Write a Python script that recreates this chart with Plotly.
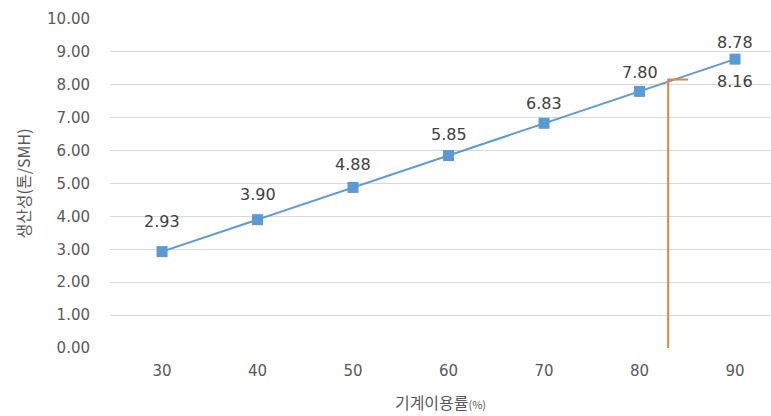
import plotly.graph_objects as go

# Machine utilisation (%) vs. productivity (tonnes per scheduled machine hour)
utilisation = [30, 40, 50, 60, 70, 80, 90]
productivity = [2.93, 3.90, 4.88, 5.85, 6.83, 7.80, 8.78]
value_labels = ["2.93", "3.90", "4.88", "5.85", "6.83", "7.80", "8.78"]
y_ticks = [0, 1, 2, 3, 4, 5, 6, 7, 8, 9, 10]
y_tick_labels = ["0.00", "1.00", "2.00", "3.00", "4.00", "5.00",
                 "6.00", "7.00", "8.00", "9.00", "10.00"]

# Marker line for the target operating point
target_x = 83.0
target_y = 8.16
target_label = "8.16"

label_offsets = [30, 25, 23, 21, 20, 19, 17]

BLUE = "#5B9BD5"
ORANGE = "#E6853A"
NUM_FONT = "DejaVu Sans, sans-serif"
KR_FONT = "Noto Sans CJK KR, Noto Sans, sans-serif"

fig = go.Figure()

fig.add_trace(go.Scatter(
    x=utilisation, y=productivity,
    mode="lines+markers",
    line=dict(color=BLUE, width=2),
    marker=dict(symbol="square", size=11, color=BLUE),
    hoverinfo="x+y",
    showlegend=False,
))

# Vertical drop line with a short horizontal cap at the top
fig.add_trace(go.Scatter(
    x=[target_x, target_x, target_x + 2.1],
    y=[0, target_y, target_y],
    mode="lines",
    line=dict(color=ORANGE, width=2),
    hoverinfo="skip",
    showlegend=False,
))

for xv, yv, txt, dy in zip(utilisation, productivity, value_labels, label_offsets):
    fig.add_annotation(x=xv, y=yv, text=txt, showarrow=False,
                       yshift=dy, font=dict(size=16, color="#404040", family=NUM_FONT))

fig.add_annotation(x=utilisation[-1], y=target_y, text=target_label, showarrow=False,
                   yshift=-2, font=dict(size=16, color="#404040", family=NUM_FONT))

fig.update_layout(
    width=771, height=416,
    margin=dict(l=110, r=0, t=19, b=68),
    paper_bgcolor="white", plot_bgcolor="white",
    font=dict(family=NUM_FONT, color="#595959"),
    xaxis=dict(
        range=[24.55, 93.77],
        tickvals=utilisation,
        ticktext=[str(v) for v in utilisation],
        showgrid=False, zeroline=False,
        showline=False,
        ticks="outside", ticklen=9, tickcolor="rgba(0,0,0,0)",
        tickfont=dict(size=15, color="#595959", family=NUM_FONT),
        title=dict(text="기계이용률<span style='font-size:11px'>(%)</span>",
                   font=dict(size=16, color="#595959", family=KR_FONT), standoff=18),
    ),
    yaxis=dict(
        range=[0, 10],
        tickvals=y_ticks, ticktext=y_tick_labels,
        showgrid=True, gridcolor="#D9D9D9", gridwidth=1.2,
        zeroline=False, showline=False,
        ticks="outside", ticklen=16, tickcolor="rgba(0,0,0,0)",
        tickfont=dict(size=15, color="#595959", family=NUM_FONT),
        title=dict(text="생산성(톤/SMH)", font=dict(size=16, color="#595959", family=KR_FONT),
                   standoff=12),
    ),
)

fig.write_html("out.html")
